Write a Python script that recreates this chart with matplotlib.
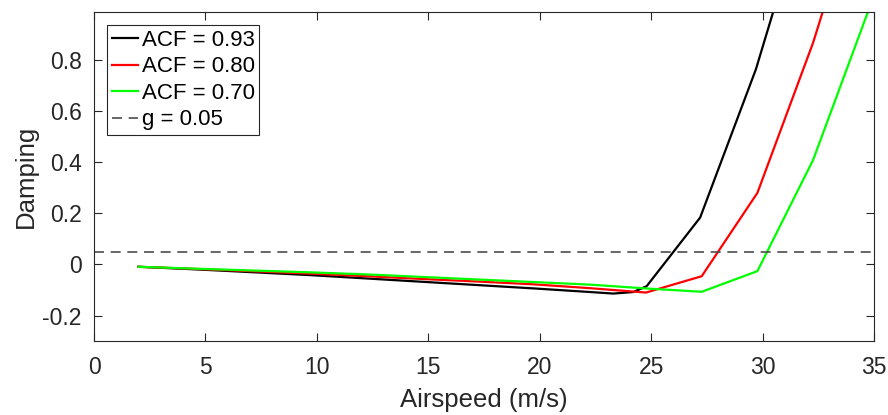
import matplotlib.pyplot as plt

# Data
airspeed = [2.0, 4.77, 7.27, 9.77, 12.27, 14.77, 17.27, 19.77, 22.27, 24.77, 27.27, 29.77, 32.27, 34.77]
airspeed_093 = [2.0, 4.77, 7.27, 9.77, 12.27, 14.77, 17.27, 19.77, 22.27, 23.3, 24.2, 24.8, 27.2, 29.7, 32.2]

damp_093 = [-0.009, -0.020, -0.031, -0.042, -0.055, -0.068, -0.081, -0.094, -0.108, -0.114, -0.108, -0.085, 0.184, 0.765, 1.49]
damp_080 = [-0.009, -0.018, -0.027, -0.036, -0.046, -0.057, -0.067, -0.078, -0.093, -0.110, -0.046, 0.281, 0.870, 1.57]
damp_070 = [-0.009, -0.017, -0.024, -0.031, -0.039, -0.049, -0.059, -0.069, -0.079, -0.094, -0.107, -0.026, 0.410, 1.00]

g_level = 0.05
labels = ["ACF = 0.93", "ACF = 0.80", "ACF = 0.70", "g = 0.05"]

plt.rcParams['font.family'] = ['Liberation Sans', 'DejaVu Sans']

fig = plt.figure(figsize=(8.88, 4.15), dpi=100)
ax = fig.add_axes([0.1059, 0.1783, 0.8783, 0.7928])

ax.plot(airspeed_093, damp_093, color='black', lw=1.6, label=labels[0])
ax.plot(airspeed, damp_080, color='#ff0000', lw=1.6, label=labels[1])
ax.plot(airspeed, damp_070, color='#00ff00', lw=1.6, label=labels[2])
ax.axhline(g_level, color='0.3', lw=1.2, ls=(0, (6, 4)), label=labels[3])

ax.set_xlim(0, 35)
ax.set_ylim(-0.3, 0.99)
ax.set_xticks(range(0, 36, 5))
ax.set_yticks([-0.2, 0, 0.2, 0.4, 0.6, 0.8])
ax.set_yticklabels(["-0.2", "0", "0.2", "0.4", "0.6", "0.8"])

ax.tick_params(direction='in', length=6, width=0.8, top=True, right=True,
               labelsize=16.5, colors='#262626', labelcolor='#262626')
ax.tick_params(axis='x', pad=11)
ax.tick_params(axis='y', pad=9)
for sp in ax.spines.values():
    sp.set_color('#262626')
    sp.set_linewidth(0.8)

ax.set_xlabel("Airspeed (m/s)", fontsize=18.5, color='#262626', labelpad=6)
ax.set_ylabel("Damping", fontsize=18.5, color='#262626', labelpad=3)

leg = ax.legend(loc='upper left', fontsize=16, frameon=True, fancybox=False,
                edgecolor='#262626', framealpha=1, borderaxespad=0.6,
                handlelength=1.2, handletextpad=0.15, labelspacing=0.25,
                borderpad=0.2)
leg.get_frame().set_linewidth(0.8)

fig.savefig("out.png", dpi=100)
